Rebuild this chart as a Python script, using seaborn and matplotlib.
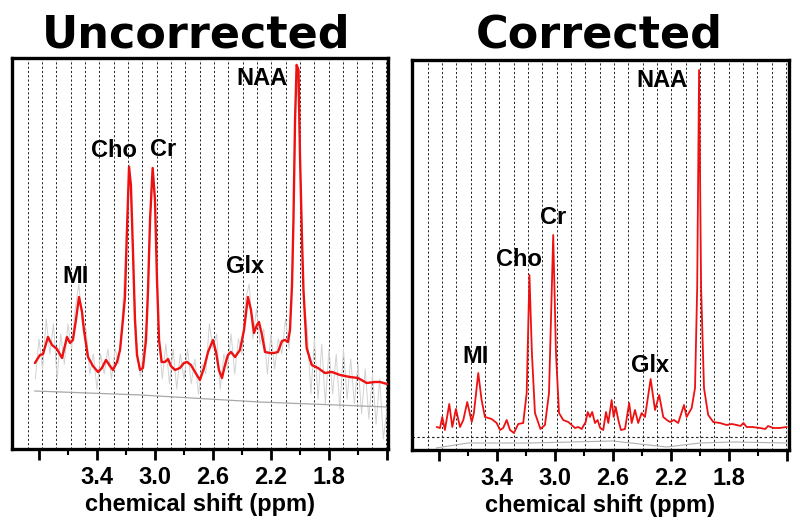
import matplotlib
matplotlib.use("Agg")
import matplotlib.pyplot as plt
import seaborn as sns
from matplotlib.ticker import FixedLocator

# ---- uncorrected spectrum: fitted curve (red) ----
unc_ppm = [3.828, 3.793, 3.772, 3.738, 3.710, 3.676, 3.641, 3.607, 3.586, 3.566,
           3.545, 3.524, 3.503, 3.490, 3.462, 3.428, 3.393, 3.366, 3.338, 3.310,
           3.290, 3.262, 3.241, 3.221, 3.207, 3.193, 3.179, 3.166, 3.152, 3.138,
           3.124, 3.103, 3.083, 3.062, 3.048, 3.034, 3.016, 3.000, 2.986, 2.972,
           2.954, 2.931, 2.910, 2.890, 2.862, 2.828, 2.800, 2.779, 2.752, 2.724,
           2.690, 2.662, 2.634, 2.600, 2.579, 2.559, 2.538, 2.517, 2.497, 2.476,
           2.448, 2.414, 2.386, 2.359, 2.338, 2.317, 2.297, 2.283, 2.262, 2.241,
           2.207, 2.179, 2.152, 2.124, 2.103, 2.083, 2.069, 2.055, 2.045, 2.034,
           2.023, 2.010, 2.000, 1.986, 1.976, 1.954, 1.919, 1.876, 1.828, 1.779,
           1.724, 1.655, 1.600, 1.540, 1.483, 1.448, 1.400]
unc_fit = [86, 94, 95, 112, 104, 100, 91, 112, 106, 109,
           129, 152, 137, 119, 92, 83, 77, 81, 89, 83,
           79, 87, 99, 129, 152, 219, 282, 264, 199, 129,
           94, 79, 81, 109, 159, 229, 281, 249, 169, 109,
           87, 87, 90, 83, 79, 81, 86, 87, 84, 77,
           69, 81, 97, 109, 97, 79, 71, 84, 94, 97,
           92, 99, 119, 152, 139, 116, 124, 127, 114, 97,
           96, 96, 97, 108, 109, 107, 119, 164, 229, 329,
           384, 379, 294, 209, 159, 101, 84, 81, 76, 77,
           74, 72, 71, 66, 67, 67, 65]

# ---- uncorrected spectrum: raw noisy signal (grey) ----
unc_raw_ppm = [3.825, 3.800, 3.775, 3.750, 3.725, 3.700, 3.675, 3.650, 3.625, 3.600,
               3.575, 3.550, 3.525, 3.500, 3.475, 3.450, 3.425, 3.400, 3.375, 3.350,
               3.325, 3.300, 3.275, 3.250, 3.225, 3.200, 3.175, 3.150, 3.125, 3.100,
               3.075, 3.050, 3.025, 3.000, 2.975, 2.950, 2.925, 2.900, 2.875, 2.850,
               2.825, 2.800, 2.775, 2.750, 2.725, 2.700, 2.675, 2.650, 2.625, 2.600,
               2.575, 2.550, 2.525, 2.500, 2.475, 2.450, 2.425, 2.400, 2.375, 2.350,
               2.325, 2.300, 2.275, 2.250, 2.225, 2.200, 2.175, 2.150, 2.125, 2.100,
               2.075, 2.050, 2.025, 2.000, 1.975, 1.950, 1.925, 1.900, 1.875, 1.850,
               1.825, 1.800, 1.775, 1.750, 1.725, 1.700, 1.675, 1.650, 1.625, 1.600,
               1.575, 1.550, 1.525, 1.500, 1.475, 1.450, 1.425, 1.400]
unc_raw = [70, 110, 80, 130, 95, 125, 70, 115, 85, 125,
           100, 140, 165, 125, 120, 75, 95, 60, 95, 75,
           100, 70, 100, 85, 135, 205, 285, 185, 100, 72,
           105, 140, 270, 255, 115, 70, 105, 65, 100, 60,
           95, 70, 100, 65, 90, 55, 85, 75, 125, 100,
           115, 60, 95, 80, 115, 75, 110, 95, 150, 165,
           110, 140, 105, 120, 75, 115, 80, 110, 95, 130,
           100, 180, 385, 300, 150, 120, 55, 110, 50, 105,
           45, 100, 55, 95, 40, 100, 50, 90, 45, 85,
           35, 80, 30, 75, 25, 70, 10, 40]

unc_base_ppm = [3.83, 3.10, 2.28, 1.40]
unc_base = [58, 54, 47, 42]

# ---- corrected spectrum: fitted curve (red) ----
cor_ppm = [3.816, 3.793, 3.777, 3.759, 3.729, 3.708, 3.683, 3.655, 3.632, 3.605,
           3.574, 3.559, 3.529, 3.506, 3.483, 3.437, 3.402, 3.379, 3.357, 3.333,
           3.310, 3.283, 3.253, 3.219, 3.195, 3.176, 3.159, 3.138, 3.100, 3.069,
           3.041, 3.012, 2.993, 2.972, 2.943, 2.908, 2.885, 2.862, 2.839, 2.816,
           2.788, 2.774, 2.759, 2.743, 2.724, 2.706, 2.688, 2.667, 2.648, 2.632,
           2.609, 2.595, 2.581, 2.563, 2.545, 2.517, 2.488, 2.471, 2.448, 2.426,
           2.402, 2.379, 2.340, 2.310, 2.281, 2.253, 2.228, 2.207, 2.179, 2.150,
           2.110, 2.092, 2.057, 2.034, 2.019, 2.006, 1.992, 1.972, 1.943, 1.908,
           1.862, 1.816, 1.780, 1.747, 1.720, 1.700, 1.678, 1.640, 1.586, 1.550,
           1.530, 1.494, 1.450, 1.402]
cor_fit = [23, 22, 33, 20, 46, 23, 41, 23, 30, 48,
           28, 37, 77, 50, 33, 31, 27, 20, 22, 30,
           20, 17, 26, 27, 57, 175, 97, 37, 21, 25,
           57, 215, 97, 37, 30, 28, 25, 22, 23, 21,
           28, 38, 33, 38, 27, 30, 22, 20, 38, 27,
           50, 33, 43, 30, 20, 21, 47, 27, 40, 27,
           37, 33, 71, 40, 55, 33, 30, 28, 30, 27,
           45, 33, 42, 62, 162, 380, 162, 62, 35, 28,
           27, 25, 26, 25, 24, 27, 23, 23, 22, 21,
           24, 22, 22, 23]

cor_base_ppm = [3.82, 3.60, 3.17, 2.60, 2.23, 2.00, 1.77, 1.40]
cor_base = [2, 7, 7, 9, 3, 7, 8, 7]
cor_zero_line = 12.7

peak_names = ["MI", "Cho", "Cr", "Glx", "NAA"]
unc_label_ppm = [3.545, 3.283, 2.945, 2.379, 2.262]
unc_label_y = [166, 292, 293, 176, 364]
cor_label_ppm = [3.545, 3.248, 3.014, 2.345, 2.262]
cor_label_y = [87, 184, 226, 78, 363]

tick_ppm = [3.8, 3.4, 3.0, 2.6, 2.2, 1.8, 1.4]
tick_labels = ["", "3.4", "3.0", "2.6", "2.2", "1.8", ""]
grid_first, grid_last, grid_n = 3.879, 1.406, 26

sns.set_theme(style="white")
plt.rcParams["font.family"] = ["Liberation Sans", "DejaVu Sans"]
plt.rcParams["text.color"] = "black"
plt.rcParams["axes.labelcolor"] = "black"
plt.rcParams["xtick.color"] = "black"
plt.rcParams["xtick.labelcolor"] = "black"

fig = plt.figure(figsize=(8, 5.26), dpi=100)
ax1 = fig.add_axes([0.015, 0.1464, 0.47, 0.7434])
ax2 = fig.add_axes([0.515, 0.1445, 0.4712, 0.7414])


def style_axis(ax, xlim, ylim):
    ax.set_xlim(*xlim)
    ax.set_ylim(*ylim)
    step = (grid_first - grid_last) / (grid_n - 1)
    for i in range(grid_n):
        ax.axvline(grid_first - i * step, color="#222222", lw=0.7,
                   ls=(0, (2.2, 2.2)), zorder=0)
    for s in ax.spines.values():
        s.set_color("black")
        s.set_linewidth(2.4)
    ax.set_yticks([])
    ax.xaxis.set_major_locator(FixedLocator(tick_ppm))
    ax.set_xticklabels(tick_labels)
    ax.xaxis.set_minor_locator(FixedLocator([3.6, 3.2, 2.8, 2.4, 2.0, 1.6]))
    ax.tick_params(axis="x", which="major", direction="out", length=8,
                   width=2.0, color="black", bottom=True, pad=4)
    ax.tick_params(axis="x", which="minor", direction="out", length=4,
                   width=1.5, color="black", bottom=True)
    for t in ax.get_xticklabels():
        t.set_fontsize(17)
        t.set_fontweight("bold")
        t.set_color("black")
    ax.set_xlabel("chemical shift (ppm)", fontsize=17, color="black",
                  fontweight="bold", labelpad=3)
    ax.set_ylabel("")


# left panel
sns.lineplot(x=unc_raw_ppm, y=unc_raw, ax=ax1, color="#d2d2d2", lw=0.7,
             estimator=None, zorder=2)
sns.lineplot(x=unc_base_ppm, y=unc_base, ax=ax1, color="#a8a8a8", lw=0.9,
             estimator=None, zorder=2)
sns.lineplot(x=unc_ppm, y=unc_fit, ax=ax1, color="#ee1111", lw=1.7,
             estimator=None, zorder=3)
style_axis(ax1, (3.986, 1.393), (0, 391))
for name, px, py in zip(peak_names, unc_label_ppm, unc_label_y):
    ax1.text(px, py, name, ha="center", va="baseline", fontsize=17,
             fontweight="bold", color="black", zorder=4)

# right panel
ax2.axhline(cor_zero_line, color="#222222", lw=0.8, ls=(0, (2.2, 2.2)), zorder=1)
sns.lineplot(x=cor_base_ppm, y=cor_base, ax=ax2, color="#b0b0b0", lw=0.8,
             estimator=None, zorder=2)
sns.lineplot(x=cor_ppm, y=cor_fit, ax=ax2, color="#ee1111", lw=1.3,
             estimator=None, zorder=3)
style_axis(ax2, (3.986, 1.386), (0, 390))
for name, px, py in zip(peak_names, cor_label_ppm, cor_label_y):
    ax2.text(px, py, name, ha="center", va="baseline", fontsize=17,
             fontweight="bold", color="black", zorder=4)

fig.text(0.245, 0.9106, "Uncorrected", ha="center", va="baseline",
         fontsize=32, fontweight="bold", family="DejaVu Sans", color="black")
fig.text(0.749, 0.9106, "Corrected", ha="center", va="baseline",
         fontsize=32, fontweight="bold", family="DejaVu Sans", color="black")

fig.savefig("out.png", dpi=100, facecolor="white")
